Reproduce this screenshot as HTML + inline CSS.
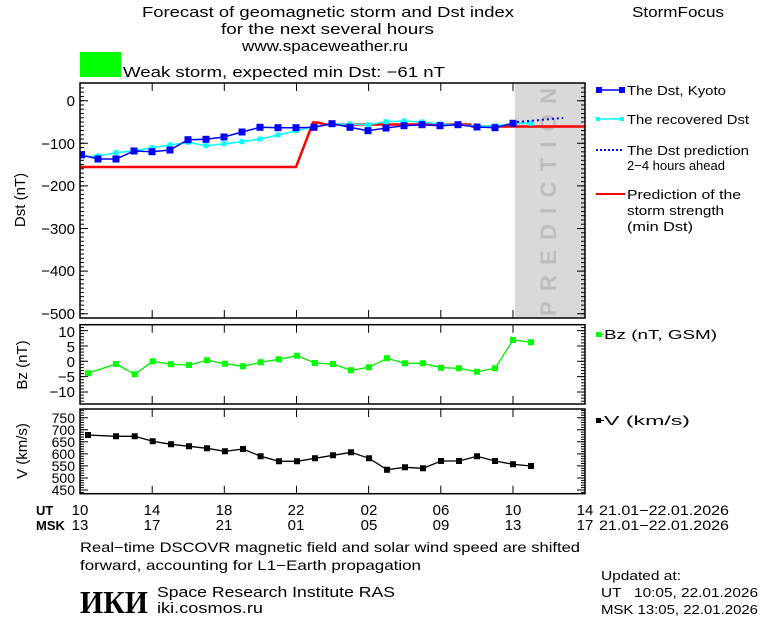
<!DOCTYPE html>
<html><head><meta charset="utf-8"><style>
html,body{margin:0;padding:0;background:#fff}
svg{display:block}
text{font-family:"Liberation Sans",sans-serif;fill:#000}
</style></head><body>
<svg width="760" height="620" viewBox="0 0 760 620" xmlns="http://www.w3.org/2000/svg">
<defs>
<pattern id="pd" patternUnits="userSpaceOnUse" x="0" y="100.2" width="760" height="4.26"><rect x="0" y="0" width="760" height="1" fill="#000"/></pattern>
<pattern id="pb" patternUnits="userSpaceOnUse" x="0" y="360.8" width="760" height="3.07"><rect x="0" y="0" width="760" height="1" fill="#000"/></pattern>
<pattern id="pv" patternUnits="userSpaceOnUse" x="0" y="417.2" width="760" height="2.411"><rect x="0" y="0" width="760" height="1" fill="#000"/></pattern>
</defs>
<!-- header -->
<text x="142" y="17" font-size="15" textLength="372" lengthAdjust="spacingAndGlyphs">Forecast of geomagnetic storm and Dst index</text>
<text x="221" y="34" font-size="15" textLength="213" lengthAdjust="spacingAndGlyphs">for the next several hours</text>
<text x="242" y="51" font-size="15" textLength="166" lengthAdjust="spacingAndGlyphs">www.spaceweather.ru</text>
<text x="632" y="17" font-size="15" textLength="92" lengthAdjust="spacingAndGlyphs">StormFocus</text>
<rect x="80" y="52" width="41" height="25" fill="#00ff00"/>
<text x="123" y="77" font-size="15" textLength="322" lengthAdjust="spacingAndGlyphs">Weak storm, expected min Dst: −61 nT</text>

<!-- Dst panel -->
<rect x="515" y="83" width="70" height="235" fill="#d9d9d9"/>
<text transform="translate(556,316) rotate(-90)" font-size="22" font-weight="bold" style="fill:#bdbdbd" textLength="228" lengthAdjust="spacing">PREDICTION</text>
<rect x="80" y="85" width="4" height="231" fill="url(#pd)"/>
<rect x="581" y="85" width="4" height="231" fill="url(#pd)"/>
<rect x="80" y="326" width="4" height="77" fill="url(#pb)"/>
<rect x="581" y="326" width="4" height="77" fill="url(#pb)"/>
<rect x="80" y="410" width="4" height="83" fill="url(#pv)"/>
<rect x="581" y="410" width="4" height="83" fill="url(#pv)"/>
<path stroke="#000" stroke-width="1" fill="none" d="
M80 100.7h8M80 143.3h8M80 185.9h8M80 228.5h8M80 271.1h8M80 313.7h8
M577 100.7h8M577 143.3h8M577 185.9h8M577 228.5h8M577 271.1h8M577 313.7h8
M80 330.6h8M80 345.95h8M80 361.3h8M80 376.65h8M80 392h8
M577 330.6h8M577 345.95h8M577 361.3h8M577 376.65h8M577 392h8
M80 417.7h8M80 429.8h8M80 441.8h8M80 453.9h8M80 465.9h8M80 478h8M80 490h8
M577 417.7h8M577 429.8h8M577 441.8h8M577 453.9h8M577 465.9h8M577 478h8M577 490h8
M152.2 83v8M224.3 83v8M296.5 83v8M368.6 83v8M440.8 83v8M513 83v8
M152.2 318v-8M224.3 318v-8M296.5 318v-8M368.6 318v-8M440.8 318v-8M513 318v-8
M152.2 324.7v8M224.3 324.7v8M296.5 324.7v8M368.6 324.7v8M440.8 324.7v8M513 324.7v8
M152.2 404v-8M224.3 404v-8M296.5 404v-8M368.6 404v-8M440.8 404v-8M513 404v-8
M152.2 409v8M224.3 409v8M296.5 409v8M368.6 409v8M440.8 409v8M513 409v8
M152.2 493.7v-8M224.3 493.7v-8M296.5 493.7v-8M368.6 493.7v-8M440.8 493.7v-8M513 493.7v-8"/>

<!-- red -->
<polyline points="80,167 296,167 313,122.5 318,122.5 325,124.5 470,124.5 472,126.5 585,126.5" fill="none" stroke="#ff0000" stroke-width="2.5"/>
<!-- cyan -->
<polyline points="80,157 98,156 116,152.7 134,150.7 152,147.7 170,145 188,142.3 206,145.7 224,143.7 242,141.7 260,139 278,135 296,130.7 314,126.7 332,124 350,124 368,124.7 386,121.7 404,121 422,122 440,124 458,125 477,126 495,126 513,123.5 531,123.3" fill="none" stroke="#00ffff" stroke-width="1.5"/>
<g fill="#00ffff">
<rect x="95.5" y="153.5" width="5" height="5"/><rect x="113.5" y="150.2" width="5" height="5"/><rect x="131.5" y="148.2" width="5" height="5"/><rect x="149.5" y="145.2" width="5" height="5"/><rect x="167.5" y="142.5" width="5" height="5"/><rect x="185.5" y="139.8" width="5" height="5"/><rect x="203.5" y="143.2" width="5" height="5"/><rect x="221.5" y="141.2" width="5" height="5"/><rect x="239.5" y="139.2" width="5" height="5"/><rect x="257.5" y="136.5" width="5" height="5"/><rect x="275.5" y="132.5" width="5" height="5"/><rect x="293.5" y="128.2" width="5" height="5"/><rect x="311.5" y="124.2" width="5" height="5"/><rect x="329.5" y="121.5" width="5" height="5"/><rect x="347.5" y="121.5" width="5" height="5"/><rect x="365.5" y="122.2" width="5" height="5"/><rect x="383.5" y="119.2" width="5" height="5"/><rect x="401.5" y="118.5" width="5" height="5"/><rect x="419.5" y="119.5" width="5" height="5"/><rect x="437.5" y="121.5" width="5" height="5"/><rect x="455.5" y="122.5" width="5" height="5"/><rect x="474.5" y="123.5" width="5" height="5"/><rect x="492.5" y="123.5" width="5" height="5"/><rect x="510.5" y="121" width="5" height="5"/><rect x="528.5" y="120.8" width="5" height="5"/>
</g>
<!-- blue -->
<polyline points="80,154.7 98,159 116,159 134,151 152,151.7 170,150 188,139.7 206,139.3 224,137 242,132 260,127.3 278,127.7 296,127.7 314,127.3 332,123.7 350,127.3 368,130.7 386,128 404,125.7 422,124.7 440,125.7 458,124.7 477,127 495,127.7 513,123.3" fill="none" stroke="#0000ff" stroke-width="1.5"/>
<polyline points="517,122 563,118" fill="none" stroke="#0000ff" stroke-width="2" stroke-dasharray="2,3"/>
<g fill="#0000ff">
<rect x="80" y="151" width="5" height="7.4"/><rect x="94.5" y="155.5" width="7" height="7"/><rect x="112.5" y="155.5" width="7" height="7"/><rect x="130.5" y="147.5" width="7" height="7"/><rect x="148.5" y="148.2" width="7" height="7"/><rect x="166.5" y="146.5" width="7" height="7"/><rect x="184.5" y="136.2" width="7" height="7"/><rect x="202.5" y="135.8" width="7" height="7"/><rect x="220.5" y="133.5" width="7" height="7"/><rect x="238.5" y="128.5" width="7" height="7"/><rect x="256.5" y="123.8" width="7" height="7"/><rect x="274.5" y="124.2" width="7" height="7"/><rect x="292.5" y="124.2" width="7" height="7"/><rect x="310.5" y="123.8" width="7" height="7"/><rect x="328.5" y="120.2" width="7" height="7"/><rect x="346.5" y="123.8" width="7" height="7"/><rect x="364.5" y="127.2" width="7" height="7"/><rect x="382.5" y="124.5" width="7" height="7"/><rect x="400.5" y="122.2" width="7" height="7"/><rect x="418.5" y="121.2" width="7" height="7"/><rect x="436.5" y="122.2" width="7" height="7"/><rect x="454.5" y="121.2" width="7" height="7"/><rect x="473.5" y="123.5" width="7" height="7"/><rect x="491.5" y="124.2" width="7" height="7"/><rect x="509.5" y="119.8" width="7" height="7"/>
</g>
<rect x="80" y="83" width="505" height="235" fill="none" stroke="#000" stroke-width="1.5"/>
<g font-size="15" text-anchor="end">
<text x="75" y="106">0</text><text x="75" y="149">−100</text><text x="75" y="191">−200</text><text x="75" y="234">−300</text><text x="75" y="276">−400</text><text x="75" y="319">−500</text>
</g>
<text transform="translate(25,200) rotate(-90)" font-size="15" text-anchor="middle">Dst (nT)</text>

<!-- Bz panel -->
<rect x="80" y="324.7" width="505" height="79.3" fill="none" stroke="#000" stroke-width="1.5"/>
<polyline points="88,373.3 116,364 134.7,374.3 152.7,361.3 171,364.3 189,365 207,360.3 225,363.7 243,366.3 260.6,362.3 279,359.3 297,355.7 315,363 333,364 351,370.3 369,367.3 387,358.3 405,363.3 423,363.3 441,367.7 459,368.3 477,371.7 495,368.3 513,340 531,342.3" fill="none" stroke="#00ee00" stroke-width="1.3"/>
<path fill="#00ff00" d="M85 370.3h6v6h-6zM113 361h6v6h-6zM131.7 371.3h6v6h-6zM149.7 358.3h6v6h-6zM168 361.3h6v6h-6zM186 362h6v6h-6zM204 357.3h6v6h-6zM222 360.7h6v6h-6zM240 363.3h6v6h-6zM257.6 359.3h6v6h-6zM276 356.3h6v6h-6zM294 352.7h6v6h-6zM312 360h6v6h-6zM330 361h6v6h-6zM348 367.3h6v6h-6zM366 364.3h6v6h-6zM384 355.3h6v6h-6zM402 360.3h6v6h-6zM420 360.3h6v6h-6zM438 364.7h6v6h-6zM456 365.3h6v6h-6zM474 368.7h6v6h-6zM492 365.3h6v6h-6zM510 337h6v6h-6zM528 339.3h6v6h-6z"/>
<g font-size="15" text-anchor="end">
<text x="75" y="337">10</text><text x="75" y="352">5</text><text x="75" y="367">0</text><text x="75" y="382">−5</text><text x="75" y="397">−10</text>
</g>
<text transform="translate(27,365) rotate(-90)" font-size="15" text-anchor="middle">Bz (nT)</text>

<!-- V panel -->
<rect x="80" y="409" width="505" height="84.7" fill="none" stroke="#000" stroke-width="1.5"/>
<polyline points="88,435 116,436.3 134.7,436.3 152.7,441.3 171,444.3 189,446.3 207,448.3 225,451.3 243,449 260.6,456.3 279,461.3 297,461.3 315,458.3 333,455.3 351,452.3 369,458.3 387,469.7 405,467.3 423,468.3 441,461 459,461 477,456.3 495,461 513,464.3 531,466" fill="none" stroke="#000" stroke-width="1.3"/>
<path fill="#000" d="M85 432h6v6h-6zM113 433.3h6v6h-6zM131.7 433.3h6v6h-6zM149.7 438.3h6v6h-6zM168 441.3h6v6h-6zM186 443.3h6v6h-6zM204 445.3h6v6h-6zM222 448.3h6v6h-6zM240 446h6v6h-6zM257.6 453.3h6v6h-6zM276 458.3h6v6h-6zM294 458.3h6v6h-6zM312 455.3h6v6h-6zM330 452.3h6v6h-6zM348 449.3h6v6h-6zM366 455.3h6v6h-6zM384 466.7h6v6h-6zM402 464.3h6v6h-6zM420 465.3h6v6h-6zM438 458h6v6h-6zM456 458h6v6h-6zM474 453.3h6v6h-6zM492 458h6v6h-6zM510 461.3h6v6h-6zM528 463h6v6h-6z"/>
<g font-size="14" text-anchor="end">
<text x="75" y="423">750</text><text x="75" y="435">700</text><text x="75" y="447">650</text><text x="75" y="459">600</text><text x="75" y="471">550</text><text x="75" y="483">500</text><text x="75" y="495">450</text>
</g>
<text transform="translate(27,451) rotate(-90)" font-size="15" text-anchor="middle">V (km/s)</text>

<!-- x labels -->
<text x="36" y="515" font-size="13" font-weight="bold">UT</text>
<text x="36" y="530" font-size="13" font-weight="bold">MSK</text>
<g font-size="15" text-anchor="middle">
<text x="80" y="515">10</text><text x="152" y="515">14</text><text x="224" y="515">18</text><text x="296" y="515">22</text><text x="369" y="515">02</text><text x="441" y="515">06</text><text x="513" y="515">10</text><text x="585" y="515">14</text>
<text x="80" y="530">13</text><text x="152" y="530">17</text><text x="224" y="530">21</text><text x="296" y="530">01</text><text x="369" y="530">05</text><text x="441" y="530">09</text><text x="513" y="530">13</text><text x="585" y="530">17</text>
</g>
<text x="599" y="515" font-size="14" textLength="130" lengthAdjust="spacingAndGlyphs">21.01−22.01.2026</text>
<text x="599" y="530" font-size="14" textLength="130" lengthAdjust="spacingAndGlyphs">21.01−22.01.2026</text>

<!-- legend -->
<line x1="598" y1="90" x2="622" y2="90" stroke="#0000ff" stroke-width="1.5"/>
<rect x="596" y="87" width="6" height="6" fill="#0000ff"/><rect x="619" y="87" width="6" height="6" fill="#0000ff"/>
<text x="627" y="95" font-size="13" textLength="99" lengthAdjust="spacingAndGlyphs">The Dst, Kyoto</text>
<line x1="598" y1="119" x2="622" y2="119" stroke="#00ffff" stroke-width="1.5"/>
<rect x="596" y="117" width="4" height="4" fill="#00ffff"/><rect x="620" y="117" width="4" height="4" fill="#00ffff"/>
<text x="627" y="124" font-size="13" textLength="122" lengthAdjust="spacingAndGlyphs">The recovered Dst</text>
<line x1="596" y1="150" x2="624" y2="150" stroke="#0000ff" stroke-width="2" stroke-dasharray="2,2"/>
<text x="627" y="155" font-size="13" textLength="122" lengthAdjust="spacingAndGlyphs">The Dst prediction</text>
<text x="627" y="170" font-size="13" textLength="98" lengthAdjust="spacingAndGlyphs">2−4 hours ahead</text>
<line x1="596" y1="194" x2="625" y2="194" stroke="#ff0000" stroke-width="2"/>
<text x="627" y="199" font-size="13" textLength="114" lengthAdjust="spacingAndGlyphs">Prediction of the</text>
<text x="627" y="215" font-size="13" textLength="97" lengthAdjust="spacingAndGlyphs">storm strength</text>
<text x="627" y="231" font-size="13" textLength="66" lengthAdjust="spacingAndGlyphs">(min Dst)</text>
<rect x="596" y="332" width="5" height="5" fill="#00ff00"/><line x1="599" y1="334.5" x2="604" y2="334.5" stroke="#00ff00"/>
<text x="604" y="339" font-size="13" textLength="113" lengthAdjust="spacingAndGlyphs">Bz (nT, GSM)</text>
<rect x="596" y="418" width="5" height="5" fill="#000"/><line x1="599" y1="420.5" x2="604" y2="420.5" stroke="#000"/>
<text x="604" y="425" font-size="13" textLength="86" lengthAdjust="spacingAndGlyphs">V (km/s)</text>

<!-- footer -->
<text x="80" y="552" font-size="14" textLength="500" lengthAdjust="spacingAndGlyphs">Real−time DSCOVR magnetic field and solar wind speed are shifted</text>
<text x="80" y="570" font-size="14" textLength="341" lengthAdjust="spacingAndGlyphs">forward, accounting for L1−Earth propagation</text>
<text x="80" y="613" font-size="32" font-weight="bold" textLength="68" lengthAdjust="spacingAndGlyphs" style="font-family:'Liberation Serif',serif">ИКИ</text>
<text x="157" y="597" font-size="15" textLength="238" lengthAdjust="spacingAndGlyphs">Space Research Institute RAS</text>
<text x="157" y="613" font-size="15" textLength="106" lengthAdjust="spacingAndGlyphs">iki.cosmos.ru</text>
<text x="601" y="580" font-size="13" textLength="80" lengthAdjust="spacingAndGlyphs">Updated at:</text>
<text x="601" y="597" font-size="13" textLength="157" lengthAdjust="spacingAndGlyphs" xml:space="preserve">UT   10:05, 22.01.2026</text>
<text x="601" y="614" font-size="13" textLength="157" lengthAdjust="spacingAndGlyphs">MSK 13:05, 22.01.2026</text>
</svg>
</body></html>
